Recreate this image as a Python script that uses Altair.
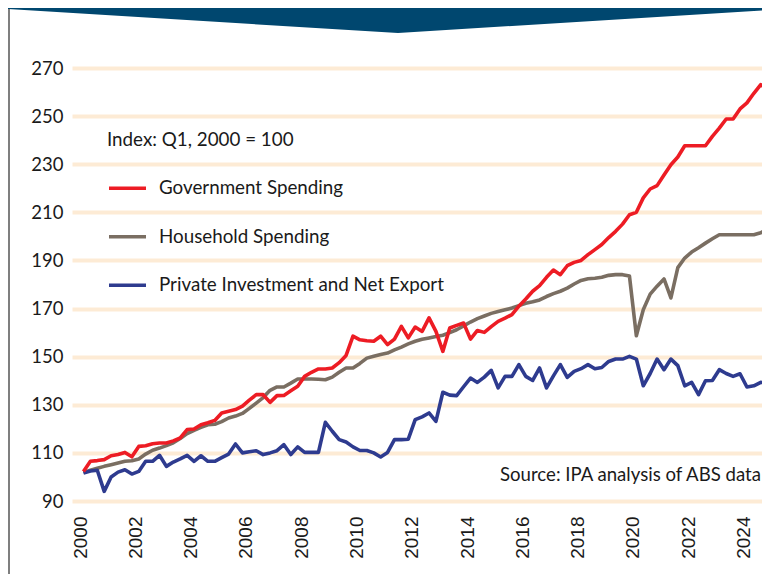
import altair as alt
import pandas as pd

# ---------------- data ----------------
start_year = 2000  # first observation: Q1 2000, quarterly observations
series_names = ["Government Spending", "Household Spending", "Private Investment and Net Export"]
series_colors = ["#ed1c24", "#7a6e62", "#2e3b8f"]

government = [
    102.3, 106.5, 106.8, 107.2, 108.8, 109.3, 110.2, 108.4, 112.7, 113.0,
    113.8, 114.1, 114.1, 115.0, 116.2, 119.7, 119.9, 121.7, 122.5, 123.5,
    126.6, 127.3, 128.0, 129.4, 131.9, 134.2, 134.2, 131.0, 133.8, 133.9,
    135.8, 137.7, 141.8, 143.5, 144.9, 144.9, 145.3, 147.5, 150.5, 158.5,
    157.0, 156.6, 156.4, 158.5, 155.0, 157.3, 162.6, 157.8, 162.3, 160.5,
    166.1, 160.5, 152.2, 161.9, 163.0, 164.0, 157.3, 160.9, 160.1, 162.5,
    164.7, 166.0, 167.5, 171.0, 174.0, 177.2, 179.5, 183.0, 186.0, 184.1,
    187.8, 189.2, 190.0, 192.4, 194.5, 196.6, 199.5, 202.1, 205.1, 209.0,
    210.0, 216.0, 219.7, 221.1, 225.5, 229.8, 233.0, 237.7, 237.7, 237.7,
    237.7, 241.6, 245.0, 248.8, 248.8, 253.0, 255.5, 259.5, 263.1, 261.0,
    260.0,
]

household = [
    101.9, 102.8, 103.6, 104.4, 105.1, 105.8, 106.5, 106.7, 107.5, 109.5,
    111.1, 112.0, 113.0, 114.2, 116.0, 118.0, 119.4, 120.6, 121.7, 121.9,
    123.0, 124.5, 125.3, 126.4, 128.5, 130.7, 133.0, 136.0, 137.4, 137.4,
    139.0, 140.7, 140.7, 140.7, 140.6, 140.4, 141.5, 143.5, 145.3, 145.3,
    147.2, 149.4, 150.2, 150.9, 151.5, 152.8, 154.0, 155.3, 156.4, 157.2,
    157.8, 158.4, 158.9, 160.0, 161.2, 162.8, 164.4, 165.8, 166.9, 168.0,
    168.8, 169.5, 170.2, 171.2, 172.2, 172.8, 173.6, 175.0, 176.2, 177.2,
    178.5, 180.2, 181.7, 182.4, 182.6, 183.0, 183.8, 184.1, 184.1, 183.5,
    158.7, 169.5, 176.0, 179.3, 182.3, 174.4, 187.0, 191.0, 193.5, 195.3,
    197.2, 199.0, 200.7, 200.7, 200.7, 200.7, 200.7, 200.7, 201.5, 203.3,
    204.5,
]

private_investment = [
    101.6, 102.5, 102.8, 94.0, 100.0, 102.0, 103.0, 101.2, 102.3, 106.5,
    106.5, 109.0, 104.4, 106.2, 107.5, 109.0, 106.5, 108.8, 106.5, 106.5,
    108.0, 109.5, 113.7, 110.0, 110.5, 110.9, 109.3, 110.0, 110.9, 113.4,
    109.3, 112.5, 110.2, 110.2, 110.2, 122.7, 119.0, 115.5, 114.5, 112.5,
    111.0, 111.0, 110.0, 108.3, 110.2, 115.5, 115.5, 115.7, 123.8, 125.0,
    126.6, 123.1, 135.2, 134.0, 133.8, 137.5, 141.1, 139.3, 141.5, 144.3,
    137.0, 141.8, 141.8, 146.7, 141.8, 140.1, 145.3, 137.0, 142.0, 146.7,
    141.4, 143.9, 145.0, 146.7, 145.0, 145.5, 148.0, 149.0, 149.0, 150.1,
    149.0, 137.9, 143.0, 149.0, 144.6, 149.0, 146.3, 137.9, 139.3, 134.2,
    140.0, 140.1, 144.6, 143.0, 141.8, 142.9, 137.4, 137.9, 139.3, 139.0,
    138.8,
]

year_ticks = [2000, 2002, 2004, 2006, 2008, 2010, 2012, 2014, 2016, 2018, 2020, 2022, 2024]
value_ticks = [90, 110, 130, 150, 170, 190, 210, 230, 250, 270]
legend_title = "Index: Q1, 2000 = 100"
source_note = "Source: IPA analysis of ABS data"

# ---------------- table ----------------
rows = []
# drawing order: household, private, government (government on top)
for name, vals in [(series_names[1], household),
                   (series_names[2], private_investment),
                   (series_names[0], government)]:
    for i, v in enumerate(vals):
        rows.append({"series": name, "t": start_year + (i + 0.5) / 4.0, "value": v})
df = pd.DataFrame(rows)

W, H = 690, 433
PAD_L, PAD_T = 64, 60
TEXT = "#1a1a1a"

lines = alt.Chart(df).mark_line(strokeWidth=3.6, clip=True, strokeJoin="round").encode(
    x=alt.X("t:Q",
            scale=alt.Scale(domain=[1999.71, 2024.67], nice=False, zero=False),
            axis=alt.Axis(values=year_ticks, format="d", labelAngle=-90, grid=False,
                          domain=False, ticks=False, labelPadding=15, labelFlush=False,
                          labelOverlap=False, labelFont="Liberation Sans", labelFontSize=19,
                          labelColor=TEXT, title=None)),
    y=alt.Y("value:Q",
            scale=alt.Scale(domain=[90, 270], nice=False, zero=False),
            axis=alt.Axis(values=value_ticks, grid=True, gridColor="#fdebd5", gridWidth=4,
                          domain=False, ticks=False, labelPadding=9, labelFont="Lato",
                          labelFontSize=18.5, labelColor=TEXT, title=None, labelFlush=False)),
    color=alt.Color("series:N",
                    scale=alt.Scale(domain=series_names, range=series_colors),
                    legend=alt.Legend(orient="none", legendX=35, legendY=63, direction="vertical",
                                      title=legend_title, titleFont="Lato", titleFontSize=18.8,
                                      titleFontWeight="normal", titleColor=TEXT, titlePadding=18,
                                      labelFont="Lato", labelFontSize=18.8, labelColor=TEXT,
                                      symbolType="stroke", symbolSize=1369, symbolStrokeWidth=3.5,
                                      labelOffset=11, rowPadding=17.5, padding=0, labelLimit=500,
                                      titleLimit=500)),
)

deco = pd.DataFrame({"k": [0]})

banner = alt.Chart(deco).mark_point(
    shape="M-64,-60 L690,-60 L690,-57.5 L326,-35 L-64,-59 Z",
    size=4, filled=True, fill="#00476f", opacity=1, strokeWidth=0,
).encode(x=alt.value(0), y=alt.value(0))

border = alt.Chart(deco).mark_rule(color="#555555", strokeWidth=1.5).encode(
    x=alt.value(-63), y=alt.value(-59), y2=alt.value(H + 73)
)

source = alt.Chart(deco).mark_text(
    text=source_note, align="right", baseline="middle", font="Lato", fontSize=18.6, color=TEXT
).encode(x=alt.value(689), y=alt.value(407))

chart = alt.layer(lines, source, banner, border).properties(
    width=W, height=H,
    padding={"left": PAD_L, "top": PAD_T, "right": 0, "bottom": 73},
    autosize=alt.AutoSizeParams(type="none"),
    background="white",
).configure_view(stroke=None)

chart.save("out.html", embed_options={"renderer": "svg", "actions": False})
